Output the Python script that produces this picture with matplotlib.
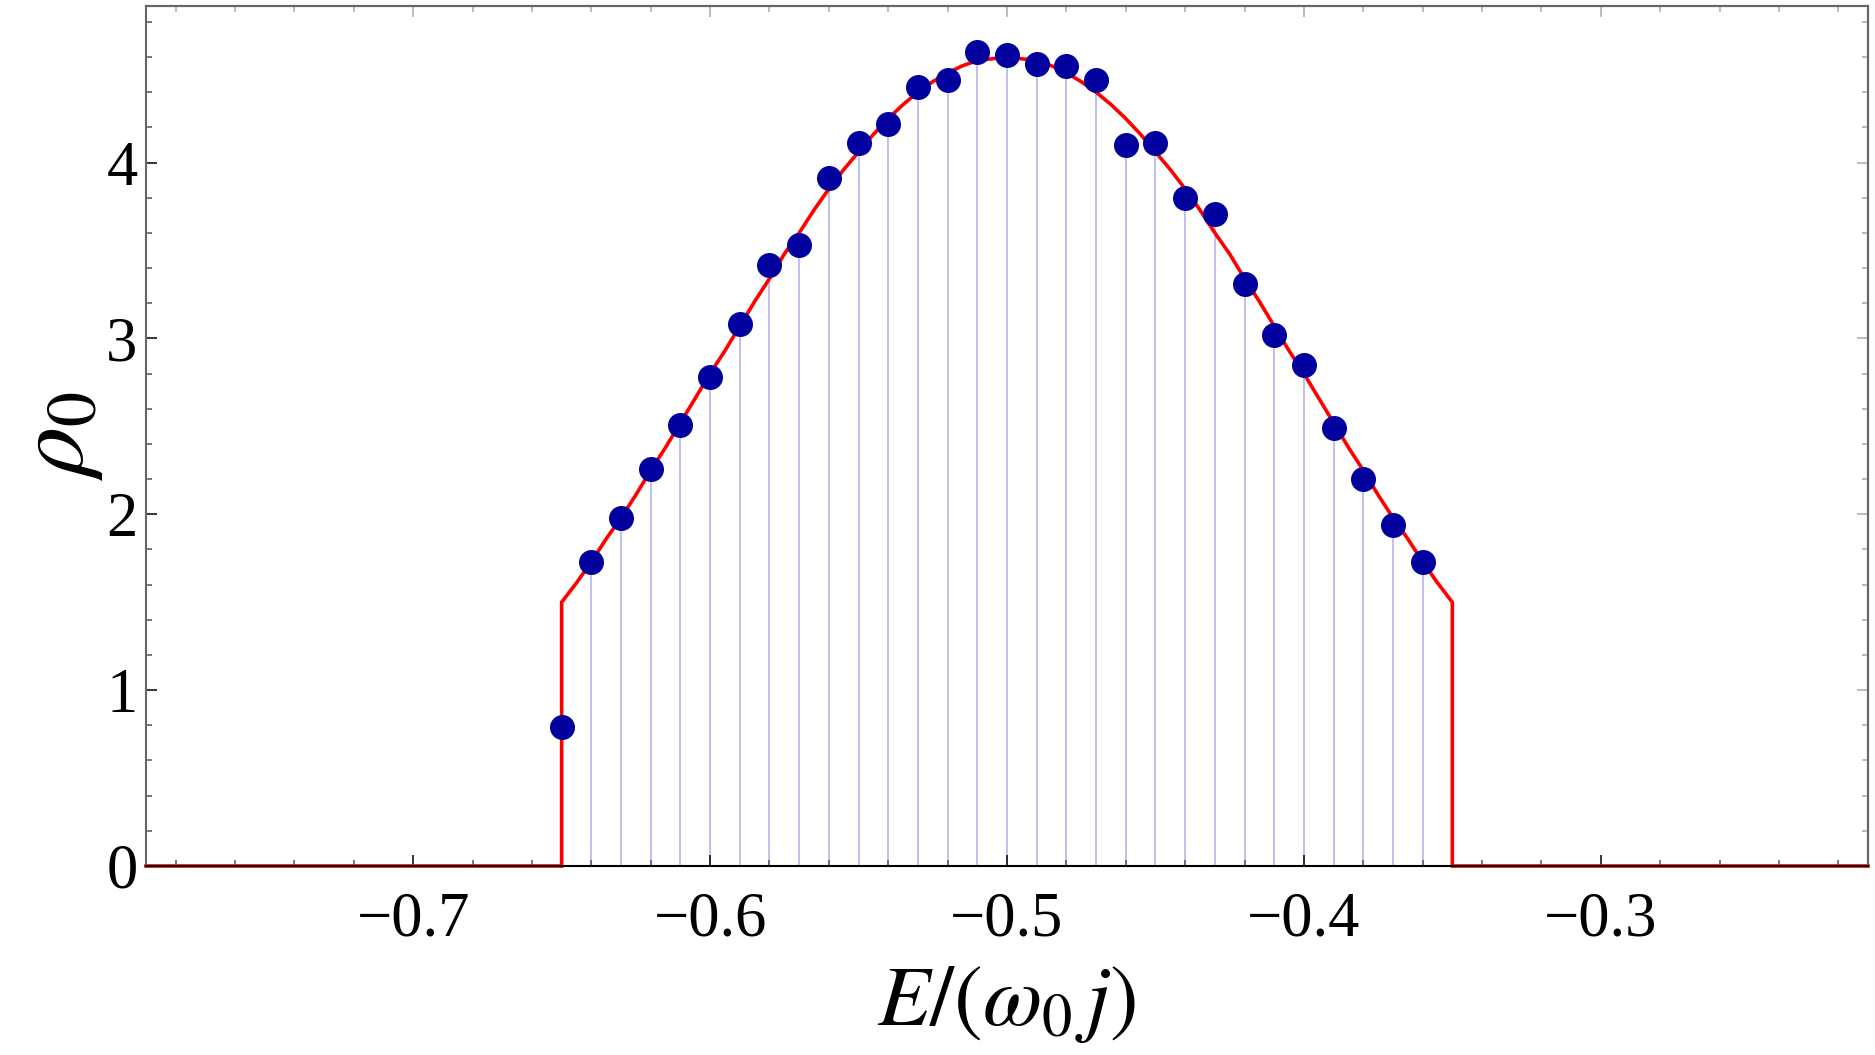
import numpy as np
import matplotlib
matplotlib.use('Agg')
import matplotlib.pyplot as plt
from matplotlib.ticker import MultipleLocator

plt.rcParams['mathtext.fontset'] = 'stix'
plt.rcParams['font.family'] = ['Liberation Serif', 'DejaVu Serif']

# numerical density of states (dots)
energies = [-0.65, -0.64, -0.63, -0.62, -0.61, -0.60, -0.59, -0.58, -0.57, -0.56,
            -0.55, -0.54, -0.53, -0.52, -0.51, -0.50, -0.49, -0.48, -0.47, -0.46,
            -0.45, -0.44, -0.43, -0.42, -0.41, -0.40, -0.39, -0.38, -0.37, -0.36]
rho_points = [0.79, 1.73, 1.98, 2.26, 2.51, 2.78, 3.08, 3.42, 3.53, 3.91,
              4.11, 4.22, 4.43, 4.47, 4.63, 4.61, 4.56, 4.55, 4.47, 4.10,
              4.11, 3.80, 3.71, 3.31, 3.02, 2.85, 2.49, 2.20, 1.94, 1.73]

# analytic curve (red) inside the band, every 0.005
curve_energies = [-0.650, -0.645, -0.640, -0.635, -0.630, -0.625, -0.620, -0.615,
                  -0.610, -0.605, -0.600, -0.595, -0.590, -0.585, -0.580, -0.575,
                  -0.570, -0.565, -0.560, -0.555, -0.550, -0.545, -0.540, -0.535,
                  -0.530, -0.525, -0.520, -0.515, -0.510, -0.505, -0.500, -0.495,
                  -0.490, -0.485, -0.480, -0.475, -0.470, -0.465, -0.460, -0.455,
                  -0.450, -0.445, -0.440, -0.435, -0.430, -0.425, -0.420, -0.415,
                  -0.410, -0.405, -0.400, -0.395, -0.390, -0.385, -0.380, -0.375,
                  -0.370, -0.365, -0.360, -0.355, -0.350]
curve_values = [1.50, 1.61, 1.73, 1.86, 1.98, 2.11, 2.25, 2.38,
                2.52, 2.66, 2.80, 2.93, 3.07, 3.21, 3.34, 3.48,
                3.60, 3.73, 3.85, 3.96, 4.06, 4.16, 4.25, 4.33,
                4.40, 4.46, 4.51, 4.55, 4.58, 4.59, 4.60, 4.59,
                4.58, 4.55, 4.51, 4.46, 4.40, 4.33, 4.25, 4.16,
                4.06, 3.96, 3.85, 3.73, 3.60, 3.48, 3.34, 3.21,
                3.07, 2.93, 2.80, 2.66, 2.52, 2.38, 2.25, 2.11,
                1.98, 1.86, 1.73, 1.61, 1.50]

x_min, x_max = -0.79, -0.21
y_max = 4.89

fig = plt.figure(figsize=(18.75, 10.55), dpi=100)
ax = fig.add_axes([146 / 1875, 1 - 866 / 1055, (1868 - 146) / 1875, (866 - 6) / 1055])

# stems from the axis to each dot
ax.vlines(energies, 0, rho_points, color='#b4b4f0', lw=1.2, zorder=1)

# red curve with the band edges dropping to zero
cx = [x_min, curve_energies[0]] + curve_energies + [curve_energies[-1], x_max]
cy = [0, 0] + curve_values + [0, 0]
ax.plot(cx, cy, color='#ff0000', lw=2.6, zorder=2, clip_on=False, solid_joinstyle='miter')

ax.plot(energies, rho_points, 'o', color='#00009f', ms=18, mec='none', zorder=3)

ax.set_xlim(x_min, x_max)
ax.set_ylim(0, y_max)

ax.xaxis.set_major_locator(MultipleLocator(0.1))
ax.xaxis.set_minor_locator(MultipleLocator(0.02))
ax.yaxis.set_major_locator(MultipleLocator(1))
ax.yaxis.set_minor_locator(MultipleLocator(0.2))
ax.set_xticks([-0.7, -0.6, -0.5, -0.4, -0.3])

ax.tick_params(which='both', direction='in', labelsize=45, width=1.1)
ax.tick_params(which='major', length=8, color='black')
ax.tick_params(which='minor', length=4.5, color='#555555')
ax.tick_params(axis='x', pad=18)
ax.tick_params(axis='y', pad=6)

# mirrored ticks on top and right, lighter
top = ax.secondary_xaxis('top')
top.xaxis.set_major_locator(MultipleLocator(0.1))
top.xaxis.set_minor_locator(MultipleLocator(0.02))
top.tick_params(which='both', direction='in', labeltop=False, color='#aaaaaa', width=1.1)
top.tick_params(which='major', length=8)
top.tick_params(which='minor', length=4.5)
right = ax.secondary_yaxis('right')
right.yaxis.set_major_locator(MultipleLocator(1))
right.yaxis.set_minor_locator(MultipleLocator(0.2))
right.tick_params(which='both', direction='in', labelright=False, color='#aaaaaa', width=1.1)
right.tick_params(which='major', length=8)
right.tick_params(which='minor', length=4.5)

for side in ['left', 'right', 'top']:
    ax.spines[side].set_color('#666666')
    ax.spines[side].set_linewidth(1.5)
top.spines['top'].set_color('#666666')
top.spines['top'].set_linewidth(1.5)
right.spines['right'].set_color('#666666')
right.spines['right'].set_linewidth(1.5)
ax.spines['bottom'].set_color('black')
ax.spines['bottom'].set_linewidth(1.5)

ax.set_xlabel(r'$E/(\omega_{\mathit{0}}\,j)$', fontsize=62, labelpad=11)
ax.set_ylabel(r'$\rho_{\mathit{0}}$', fontsize=72, labelpad=1)

fig.savefig('out.png', dpi=100)
